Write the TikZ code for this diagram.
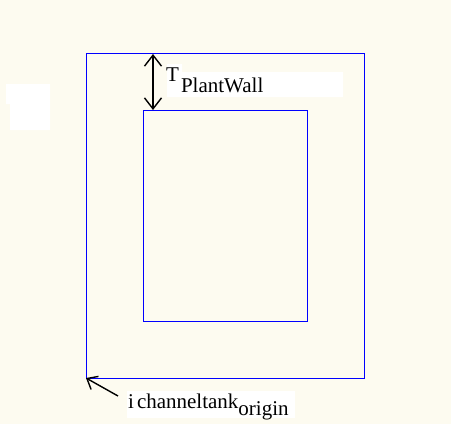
\documentclass[tikz,border=0pt]{standalone}
\usepackage{fontspec}
\setmainfont{Liberation Serif}
\usetikzlibrary{arrows.meta}
\definecolor{paper}{RGB}{253,251,240}
\definecolor{wallblue}{RGB}{0,0,255}

\begin{document}
\begin{tikzpicture}[x=1pt,y=-1pt,
    wall/.style={draw=wallblue, line width=0.9pt},
    dimarrow/.style={black, line width=1.4pt, {Straight Barb[length=11pt,width=17pt]}-{Straight Barb[length=11pt,width=17pt]}},
    originarrow/.style={black, line width=1.4pt, -{Straight Barb[length=9pt,width=15pt]}},
    lbl/.style={inner sep=0pt, font=\fontsize{21}{23}\selectfont}]
  \fill[paper] (0,0) rectangle (451,424);
  \useasboundingbox (0,0) rectangle (451,424);
  % white patches
  \fill[white] (6,84) rectangle (50,104) (10,104) rectangle (50,130);
  \fill[white] (167,64) rectangle (182,97) (182,72) rectangle (343,97);
  \fill[white] (127,391) rectangle (295,418);
  % tank outlines
  \coordinate (outerNW) at (86,53);
  \coordinate (outerSE) at (364,378);
  \coordinate (innerNW) at (143,110);
  \coordinate (innerSE) at (307,321);
  \draw[wall] (outerNW) rectangle (outerSE);
  \draw[wall] (innerNW) rectangle (innerSE);
  % wall thickness
  \coordinate (wallTop) at (153,54);
  \coordinate (wallBot) at (153,110);
  \draw[dimarrow] (wallTop) -- (wallBot);
  \node[lbl, anchor=base west] (tpw) at (166,81) {T\kern2pt\raisebox{-11pt}{PlantWall}};
  % origin
  \coordinate (tail) at (118,396);
  \draw[originarrow] (tail) -- (outerNW |- outerSE);
  \node[lbl, anchor=base west] (org) at (128,408) {i\kern3pt channeltank\raisebox{-7pt}{origin}};
\end{tikzpicture}
\end{document}
